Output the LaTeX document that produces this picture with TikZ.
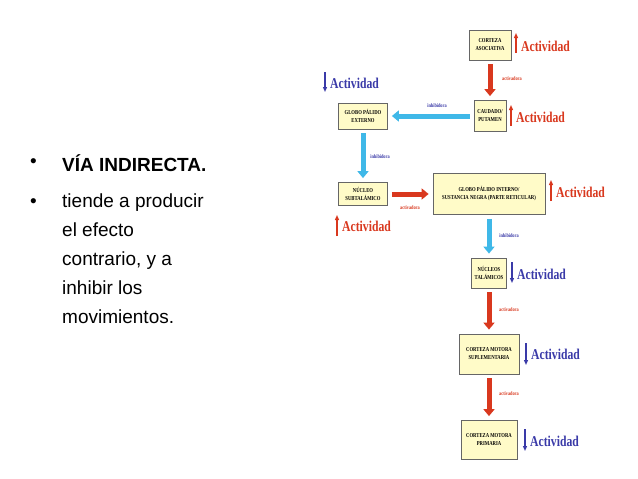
\documentclass[tikz,border=0pt]{standalone}
\usepackage{fontspec}
\setmainfont{Liberation Serif}
\setsansfont{Liberation Sans}
\newfontfamily\cond[FakeStretch=0.78]{Liberation Serif}
\usetikzlibrary{arrows.meta,calc}
\definecolor{bx}{HTML}{FFFBC8}
\definecolor{rd}{HTML}{D9381E}
\definecolor{bl}{HTML}{3A3AA8}
\definecolor{cy}{HTML}{3FB8E8}
\begin{document}
\begin{tikzpicture}[x=1pt,y=-1pt,
  box/.style={draw=black!60,fill=bx,line width=0.8pt,inner sep=1pt,align=center,font=\cond\fontsize{6}{8}\selectfont\bfseries},
  fat/.style={line width=5pt,-{Triangle[width=11pt,length=7pt]},shorten >=4pt,shorten <=4pt},
  lab/.style={font=\cond\fontsize{5.5}{6}\selectfont\bfseries,inner sep=0pt},
  act/.style={font=\cond\fontsize{15}{16}\selectfont\bfseries,inner sep=0pt,anchor=west},
  upa/.style={rd,line width=1.2pt,-{Triangle[width=4pt,length=5pt]}},
  dna/.style={bl,line width=1.2pt,-{Triangle[width=4pt,length=5pt]}},
  bt/.style={anchor=west,font=\sffamily\fontsize{19}{22}\selectfont,inner sep=0pt}]
\useasboundingbox (0,0) rectangle (638,479);
\fill[white] (0,0) rectangle (638,479);
% boxes
\node[box,minimum width=42pt,minimum height=30pt] (ca) at (490,45) {CORTEZA\\ASOCIATIVA};
\node[box,minimum width=32pt,minimum height=31pt] (cp) at (490,116) {CAUDADO/\\PUTAMEN};
\node[box,minimum width=49pt,minimum height=26pt] (ge) at (363,116) {GLOBO PÁLIDO\\EXTERNO};
\node[box,minimum width=49pt,minimum height=23pt] (ns) at (363,194) {NÚCLEO\\SUBTALÁMICO};
\node[box,minimum width=112pt,minimum height=41pt] (gi) at (489,194) {GLOBO PÁLIDO INTERNO/\\SUSTANCIA NEGRA (PARTE RETICULAR)};
\node[box,minimum width=35pt,minimum height=30pt] (nt) at (489,273) {NÚCLEOS\\TALÁMICOS};
\node[box,minimum width=60pt,minimum height=40pt] (cs) at (489,354) {CORTEZA MOTORA\\SUPLEMENTARIA};
\node[box,minimum width=56pt,minimum height=39pt] (cm) at (489,440) {CORTEZA MOTORA\\PRIMARIA};
% fat arrows
\draw[fat,rd] (ca.south) -- (cp.north);
\draw[fat,cy] (cp.west) -- (ge.east);
\draw[fat,cy] (ge.south) -- (ns.north);
\draw[fat,rd] (ns.east) -- (gi.west);
\draw[fat,cy] (gi.south) -- (nt.north);
\draw[fat,rd] (nt.south) -- (cs.north);
\draw[fat,rd] (cs.south) -- (cm.north);
% labels
\node[lab,rd] (l1) at (512,79) {activadora};
\node[lab,bl] (l2) at (437,106) {inhibidora};
\node[lab,bl] (l3) at (380,157) {inhibidora};
\node[lab,rd] (l4) at (410,208) {activadora};
\node[lab,bl] (l5) at (509,236) {inhibidora};
\node[lab,rd] (l6) at (509,310) {activadora};
\node[lab,rd] (l7) at (509,394) {activadora};
% actividad
\coordinate (u1) at (516,53); \coordinate (u1t) at (516,33);
\draw[upa] (u1) -- (u1t); \node[act,rd] (t1) at (521,46) {Actividad};
\coordinate (d2) at (325,72); \coordinate (d2t) at (325,92);
\draw[dna] (d2) -- (d2t); \node[act,bl] (t2) at (330,83) {Actividad};
\coordinate (u3) at (511,126); \coordinate (u3t) at (511,105);
\draw[upa] (u3) -- (u3t); \node[act,rd] (t3) at (516,117) {Actividad};
\coordinate (u4) at (551,201); \coordinate (u4t) at (551,180);
\draw[upa] (u4) -- (u4t); \node[act,rd] (t4) at (556,192) {Actividad};
\coordinate (u5) at (337,236); \coordinate (u5t) at (337,215);
\draw[upa] (u5) -- (u5t); \node[act,rd] (t5) at (342,226) {Actividad};
\coordinate (d6) at (512,262); \coordinate (d6t) at (512,283);
\draw[dna] (d6) -- (d6t); \node[act,bl] (t6) at (517,274) {Actividad};
\coordinate (d7) at (526,343); \coordinate (d7t) at (526,365);
\draw[dna] (d7) -- (d7t); \node[act,bl] (t7) at (531,354) {Actividad};
\coordinate (d8) at (525,429); \coordinate (d8t) at (525,451);
\draw[dna] (d8) -- (d8t); \node[act,bl] (t8) at (530,441) {Actividad};
% bullets
\node[bt] (b1) at (30,163) {•};
\node[bt] (b1t) at (62,163) {\bfseries VÍA INDIRECTA.};
\node[bt] (b2) at (30,203) {•};
\node[bt,anchor=north west,align=left,font=\sffamily\fontsize{19}{29}\selectfont] (b2t) at (62,194) {tiende a producir\\el efecto\\contrario, y a\\inhibir los\\movimientos.};
\end{tikzpicture}
\end{document}
